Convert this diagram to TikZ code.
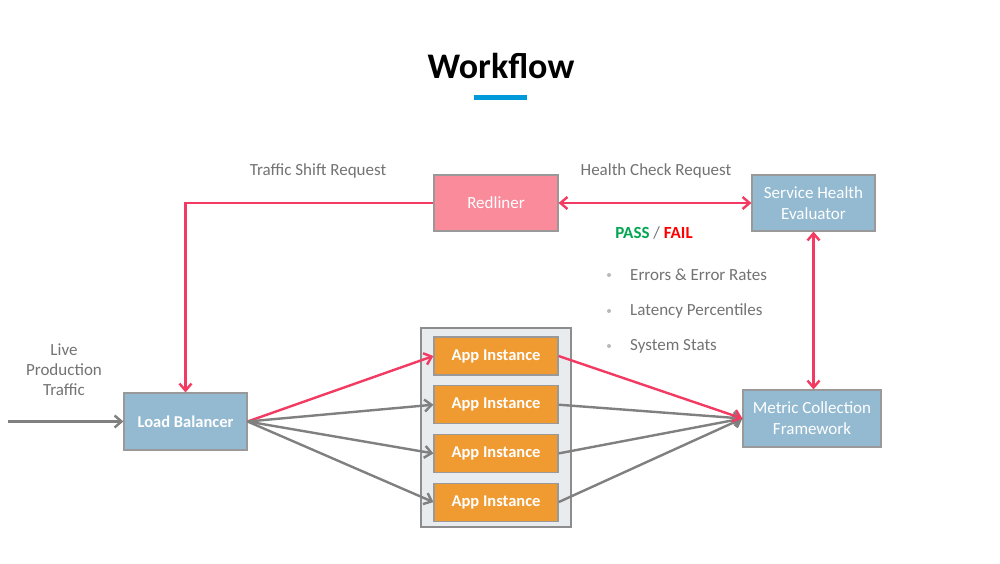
\documentclass[tikz,border=0pt]{standalone}
\usepackage{fontspec}
\setmainfont{Carlito}
\usetikzlibrary{positioning}
\usetikzlibrary{arrows.meta}
\definecolor{hotpink}{HTML}{F23A62}
\definecolor{flowgray}{HTML}{808080}
\definecolor{labelgray}{HTML}{737373}
\definecolor{boxblue}{HTML}{93BAD1}
\definecolor{boxpink}{HTML}{F98B9B}
\definecolor{boxorange}{HTML}{F09A32}
\definecolor{poolgray}{HTML}{E9ECEF}
\definecolor{titleblue}{HTML}{0099DA}
\definecolor{passgreen}{HTML}{00A651}

\tikzset{
  block/.style={draw=flowgray!80, line width=1.2pt, minimum width=124pt, minimum height=56pt,
                inner sep=0pt, text=white, align=center, font=\fontsize{17}{21}\selectfont},
  appbox/.style={block, fill=boxorange, minimum height=38pt, font=\fontsize{16.5}{20}\selectfont\bfseries},
  label/.style={text=labelgray, font=\fontsize{17}{20}\selectfont, align=center},
  flow/.style={line width=2.4pt, -{Straight Barb[length=7pt,width=12pt]}},
  hot/.style={flow, draw=hotpink},
  cold/.style={flow, draw=flowgray},
  bullet/.style={circle, fill=labelgray!50, inner sep=0pt, minimum size=4pt}
}

\begin{document}
\begin{tikzpicture}[x=1pt, y=-1pt]
  \useasboundingbox[fill=white] (0,0) rectangle (1000,563);

  % title
  \node[font=\fontsize{36}{40}\selectfont\bfseries] (title) at (501,66) {Workflow};
  \fill[titleblue] (474,95) rectangle (527,100);

  % boxes
  \node[block, fill=boxpink] (redliner) at (496,203) {Redliner};
  \node[block, fill=boxblue, minimum width=123pt] (evaluator) at (813.5,203) {Service Health\\Evaluator};
  \node[block, fill=boxblue, minimum width=123pt, minimum height=57pt, font=\fontsize{16.5}{20}\selectfont\bfseries] (balancer) at (185.5,421.5) {Load Balancer};
  \node[block, fill=boxblue, minimum width=138pt, minimum height=57pt] (metrics) at (812,418.5) {Metric Collection\\Framework};

  % instance pool
  \node[draw=flowgray!90, line width=1.2pt, fill=poolgray, minimum width=150pt, minimum height=199pt] (pool) at (496,427.5) {};
  \node[appbox] (app1) at (496,356) {App Instance};
  \node[appbox, below=9.5pt of app1] (app2) {App Instance};
  \node[appbox, below=9.5pt of app2] (app3) {App Instance};
  \node[appbox, below=9.5pt of app3] (app4) {App Instance};

  % labels
  \node[label] (shift) at (318,171) {Traffic Shift Request};
  \node[label] (check) at (656,171) {Health Check Request};
  \node[font=\fontsize{17}{20}\selectfont\bfseries] (verdict) at (654,233) {\textcolor{passgreen}{PASS} \textcolor{labelgray}{\mdseries/} \textcolor{red}{FAIL}};
  \node[label, align=center] (live) at (64,370) {Live\\Production\\Traffic};
  \foreach \y/\txt in {275/Errors \& Error Rates, 311/Latency Percentiles, 346/System Stats}{
    \node[bullet] at (609,\y) {};
    \node[label, anchor=west, inner sep=0pt] at (630,\y) {\txt};
  }

  % connectors
  \coordinate (source) at (8,421.5);
  \draw[cold] (source) -- (balancer.west);
  \draw[hot] (redliner.west) -| (balancer.north);
  \draw[hot, {Straight Barb[length=7pt,width=12pt]}-{Straight Barb[length=7pt,width=12pt]}] (redliner.east) -- (evaluator.west);
  \draw[hot, {Straight Barb[length=7pt,width=12pt]}-{Straight Barb[length=7pt,width=12pt]}] (evaluator.south) -- (evaluator.south |- metrics.north);
  \draw[hot] (balancer.east) -- (app1.west);
  \foreach \i in {2,3,4}{
    \draw[cold] (balancer.east) -- (app\i.west);
    \draw[cold] (app\i.east) -- (metrics.west);
  }
  \draw[hot] (app1.east) -- (metrics.west);
\end{tikzpicture}
\end{document}
